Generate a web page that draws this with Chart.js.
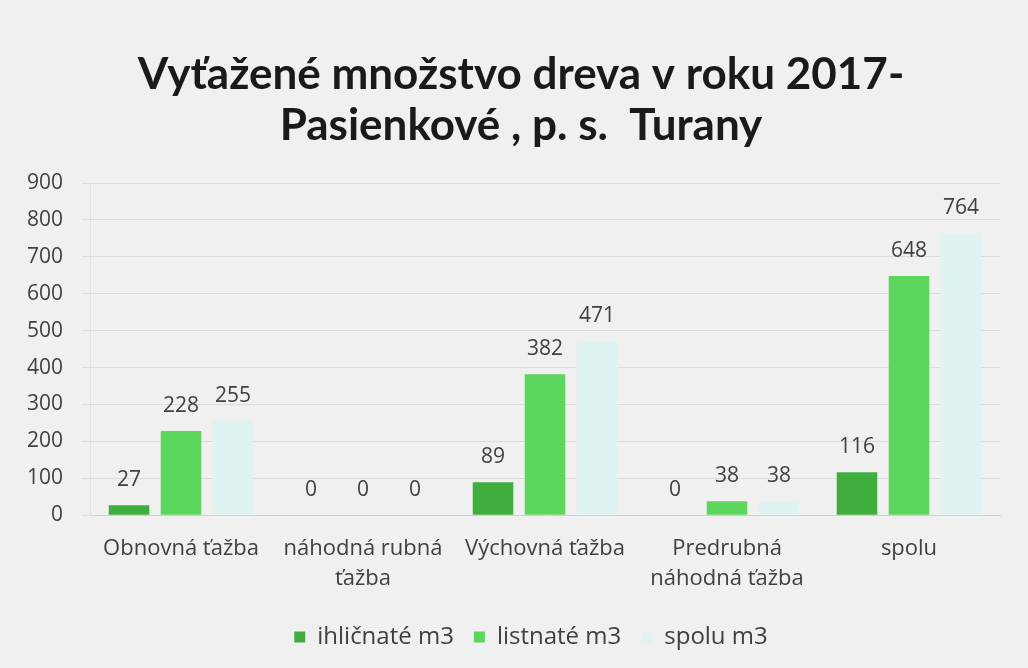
<!DOCTYPE html>
<html lang="sk">
<head>
  <meta charset="UTF-8" />
  <title>Vyťažené množstvo dreva v roku 2017</title>
  <script src="https://cdn.jsdelivr.net/npm/chart.js"></script>
  <style>
    body {
      margin: 0;
      background-color: #f0f0f0;
    }
    .wrap {
      width: 1028px;
      height: 668px;
    }
  </style>
</head>
<body>
  <div class="wrap"><canvas id="woodChart"></canvas></div>

  <script>
    const categories = [
      'Obnovná ťažba',
      ['náhodná rubná', 'ťažba'],
      'Výchovná ťažba',
      ['Predrubná', 'náhodná ťažba'],
      'spolu'
    ];
    const seriesNames = ['ihličnaté m3', 'listnaté m3', 'spolu m3'];
    const ihlicnate = [27, 0, 89, 0, 116];
    const listnate = [228, 0, 382, 38, 648];
    const spolu = [255, 0, 471, 38, 764];
    const yTicks = [0, 100, 200, 300, 400, 500, 600, 700, 800, 900];
    const titleLines = ['Vyťažené množstvo dreva v roku 2017-', 'Pasienkové , p. s.  Turany'];

    // title drawn by hand: the original is not centred over the canvas
    const titleText = {
      id: 'titleText',
      afterDraw(chart) {
        const ctx = chart.ctx;
        ctx.save();
        ctx.font = 'bold 44px Lato, sans-serif';
        ctx.fillStyle = '#1a1a1a';
        ctx.textAlign = 'center';
        ctx.textBaseline = 'middle';
        ctx.fillText(titleLines[0], 521, 75);
        ctx.fillText(titleLines[1], 521, 126);
        ctx.restore();
      },
      // legend sits a bit right of centre too
      afterLayout(chart) {
        chart.legend.left = 62;
        chart.legend.right = 1000;
      }
    };

    // value above each bar
    const valueLabels = {
      id: 'valueLabels',
      afterDatasetsDraw(chart) {
        const ctx = chart.ctx;
        ctx.save();
        ctx.font = '21px "Open Sans", sans-serif';
        ctx.fillStyle = '#404040';
        ctx.textAlign = 'center';
        ctx.textBaseline = 'alphabetic';
        chart.data.datasets.forEach((ds, i) => {
          chart.getDatasetMeta(i).data.forEach((bar, j) => {
            ctx.fillText(ds.data[j], bar.x, bar.y - 19);
          });
        });
        ctx.restore();
      }
    };

    new Chart(document.getElementById('woodChart'), {
      type: 'bar',
      data: {
        labels: categories,
        datasets: [
          { label: seriesNames[0], data: ihlicnate, backgroundColor: '#3fae3f' },
          { label: seriesNames[1], data: listnate, backgroundColor: '#5cd65c' },
          { label: seriesNames[2], data: spolu, backgroundColor: '#e0f3f3' }
        ]
      },
      options: {
        responsive: true,
        maintainAspectRatio: false,
        animation: false,
        datasets: {
          bar: { categoryPercentage: 0.857, barPercentage: 0.78 }
        },
        layout: { padding: { left: 0, right: 28, top: 183, bottom: 9 } },
        plugins: {
          title: { display: false },
          legend: {
            position: 'bottom',
            labels: {
              boxWidth: 11,
              boxHeight: 11,
              padding: 20,
              font: { family: 'Open Sans', size: 24 },
              color: '#404040'
            }
          },
          tooltip: { enabled: false }
        },
        scales: {
          x: {
            grid: { display: false },
            border: { color: '#d0d0d0' },
            ticks: {
              font: { family: 'Open Sans', size: 22, lineHeight: 1.36 },
              color: '#404040',
              maxRotation: 0,
              padding: 11
            }
          },
          y: {
            min: 0,
            max: 900,
            afterBuildTicks: axis => { axis.ticks = yTicks.map(v => ({ value: v })); },
            afterFit: axis => { axis.width = 90; },
            grid: { color: '#dcdcdc' },
            border: { display: true, color: '#e0e0e0' },
            ticks: {
              font: { family: 'Open Sans', size: 21 },
              color: '#404040',
              padding: 19
            }
          }
        }
      },
      plugins: [valueLabels, titleText]
    });
  </script>
</body>
</html>
